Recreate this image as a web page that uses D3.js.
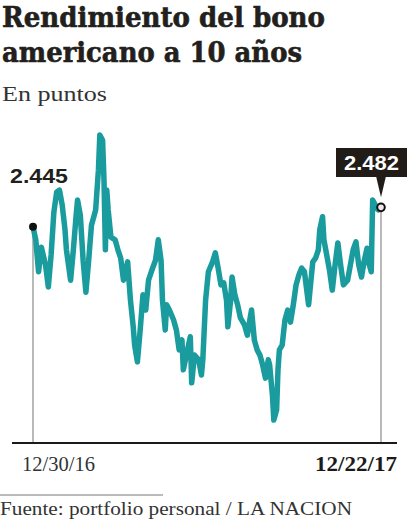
<!DOCTYPE html>
<html><head><meta charset="utf-8">
<script src="https://cdn.jsdelivr.net/npm/d3@7"></script>
<style>html,body{margin:0;padding:0;background:#fff;}svg{display:block;}</style>
</head><body>
<svg id="chart" width="420" height="519"></svg>
<script>
const title = ["Rendimiento del bono", "americano a 10 años"];
const subtitle = "En puntos";
const source = "Fuente: portfolio personal / LA NACION";
const xTickLabels = ["12/30/16", "12/22/17"];
const startLabel = "2.445";
const endLabel = "2.482";
const days = [0,2,4,5,6,9,11,13,15,17,19,21,23,24,27,29,31,32,34,36,38,40,42,45,47,48,50,51,52,53,54,56,59,61,63,65,68,70,72,73,75,77,79,81,83,85,88,90,92,93,95,96,98,101,103,105,107,108,111,113,114,116,119,121,122,124,126,129,131,133,135,137,139,140,142,143,145,147,149,152,154,156,157,159,161,163,165,167,169,170,172,173,175,176,177,179,181,183,185,187,189,191,193,195,198,199,201,203,205,206,208,209,211,213,215,217,219,221,223,226,228,230,232,234,236,238,240,241,243,244,246,248,250];
const values = [2.445,2.420,2.359,2.381,2.406,2.372,2.330,2.391,2.473,2.511,2.515,2.486,2.439,2.401,2.343,2.401,2.467,2.496,2.467,2.381,2.320,2.381,2.448,2.477,2.553,2.620,2.610,2.534,2.401,2.515,2.477,2.425,2.420,2.401,2.385,2.343,2.378,2.305,2.254,2.219,2.187,2.248,2.315,2.286,2.343,2.359,2.381,2.420,2.381,2.305,2.248,2.296,2.286,2.267,2.248,2.210,2.229,2.172,2.210,2.235,2.147,2.200,2.191,2.162,2.191,2.305,2.359,2.378,2.395,2.366,2.334,2.338,2.305,2.254,2.305,2.349,2.315,2.296,2.271,2.257,2.238,2.271,2.286,2.229,2.210,2.200,2.181,2.156,2.191,2.181,2.124,2.076,2.095,2.172,2.210,2.219,2.267,2.286,2.263,2.296,2.334,2.353,2.366,2.359,2.296,2.324,2.378,2.385,2.401,2.439,2.464,2.420,2.391,2.362,2.324,2.372,2.414,2.372,2.334,2.343,2.372,2.401,2.416,2.372,2.349,2.381,2.404,2.378,2.359,2.496,2.486,2.477,2.482];

const data = days.map((d, i) => ({d, v: values[i]}));
const svg = d3.select("#chart");
const x = d3.scaleLinear().domain([0, 250]).range([33, 381]);
const y = d3.scaleLinear().domain([2.0, 2.7]).range([459.9, 93.1]);

const ink = "#231f1c";
// Title
svg.append("text").attr("x", 2).attr("y", 27).attr("textLength", 323).attr("lengthAdjust", "spacingAndGlyphs")
  .style("font-family", "DejaVu Serif").style("font-weight", "bold").style("font-size", "27px")
  .attr("fill", ink).attr("stroke", ink).attr("stroke-width", 0.6).text(title[0]);
svg.append("text").attr("x", 2).attr("y", 62).attr("textLength", 300).attr("lengthAdjust", "spacingAndGlyphs")
  .style("font-family", "DejaVu Serif").style("font-weight", "bold").style("font-size", "27px")
  .attr("fill", ink).attr("stroke", ink).attr("stroke-width", 0.6).text(title[1]);
svg.append("text").attr("x", 2).attr("y", 101).attr("textLength", 105).attr("lengthAdjust", "spacingAndGlyphs")
  .style("font-family", "Liberation Serif").style("font-size", "21px").attr("fill", "#333").text(subtitle);

const yBase = 443;
const first = data[0], last = data[data.length - 1];

// drop lines
svg.append("line").attr("x1", x(first.d)).attr("x2", x(first.d)).attr("y1", y(first.v)).attr("y2", yBase)
  .attr("stroke", "#8a8a8a").attr("stroke-width", 1.2);
svg.append("line").attr("x1", x(last.d)).attr("x2", x(last.d)).attr("y1", y(last.v)).attr("y2", yBase)
  .attr("stroke", "#8a8a8a").attr("stroke-width", 1.2);

// line
svg.append("path").datum(data)
  .attr("d", d3.line().x(p => x(p.d)).y(p => y(p.v)))
  .attr("fill", "none").attr("stroke", "#1a9b9d").attr("stroke-width", 5.5)
  .attr("stroke-linejoin", "round").attr("stroke-linecap", "round");

// axis
svg.append("line").attr("x1", 12).attr("x2", 397).attr("y1", yBase).attr("y2", yBase)
  .attr("stroke", "#1a1a1a").attr("stroke-width", 2.2);
svg.append("text").attr("x", 22).attr("y", 471).attr("textLength", 73).attr("lengthAdjust", "spacingAndGlyphs")
  .style("font-family", "Liberation Serif").style("font-size", "20px").attr("fill", "#333").text(xTickLabels[0]);
svg.append("text").attr("x", 315).attr("y", 471).attr("textLength", 82).attr("lengthAdjust", "spacingAndGlyphs")
  .style("font-family", "Liberation Serif").style("font-weight", "bold").style("font-size", "20px").attr("fill", "#1a1a1a").text(xTickLabels[1]);

// start marker
svg.append("circle").attr("cx", x(first.d)).attr("cy", y(first.v)).attr("r", 4).attr("fill", "#111");
svg.append("text").attr("x", 10).attr("y", 183).attr("textLength", 58).attr("lengthAdjust", "spacingAndGlyphs")
  .style("font-family", "Liberation Sans").style("font-weight", "bold").style("font-size", "20px").attr("fill", ink).text(startLabel);

// end marker + box
const ex = x(last.d), ey = y(last.v);
svg.append("path").attr("d", `M${ex-5},176 L${ex+5},176 L${ex},${ey-10} Z`).attr("fill", "#221c18");
svg.append("rect").attr("x", 336).attr("y", 148).attr("width", 71).attr("height", 29).attr("fill", "#221c18");
svg.append("text").attr("x", 371.5).attr("y", 170).attr("text-anchor", "middle").attr("textLength", 55).attr("lengthAdjust", "spacingAndGlyphs")
  .style("font-family", "Liberation Sans").style("font-weight", "bold").style("font-size", "20px").attr("fill", "#fff").text(endLabel);
svg.append("circle").attr("cx", ex).attr("cy", ey).attr("r", 3.8).attr("fill", "#f4e6ec").attr("stroke", "#111").attr("stroke-width", 2);

// footer
svg.append("line").attr("x1", 0).attr("x2", 163).attr("y1", 495).attr("y2", 495).attr("stroke", "#777").attr("stroke-width", 1);
svg.append("text").attr("x", 0).attr("y", 515).attr("textLength", 352).attr("lengthAdjust", "spacingAndGlyphs")
  .style("font-family", "Liberation Serif").style("font-size", "19px").attr("fill", "#333").text(source);
</script>
</body></html>
